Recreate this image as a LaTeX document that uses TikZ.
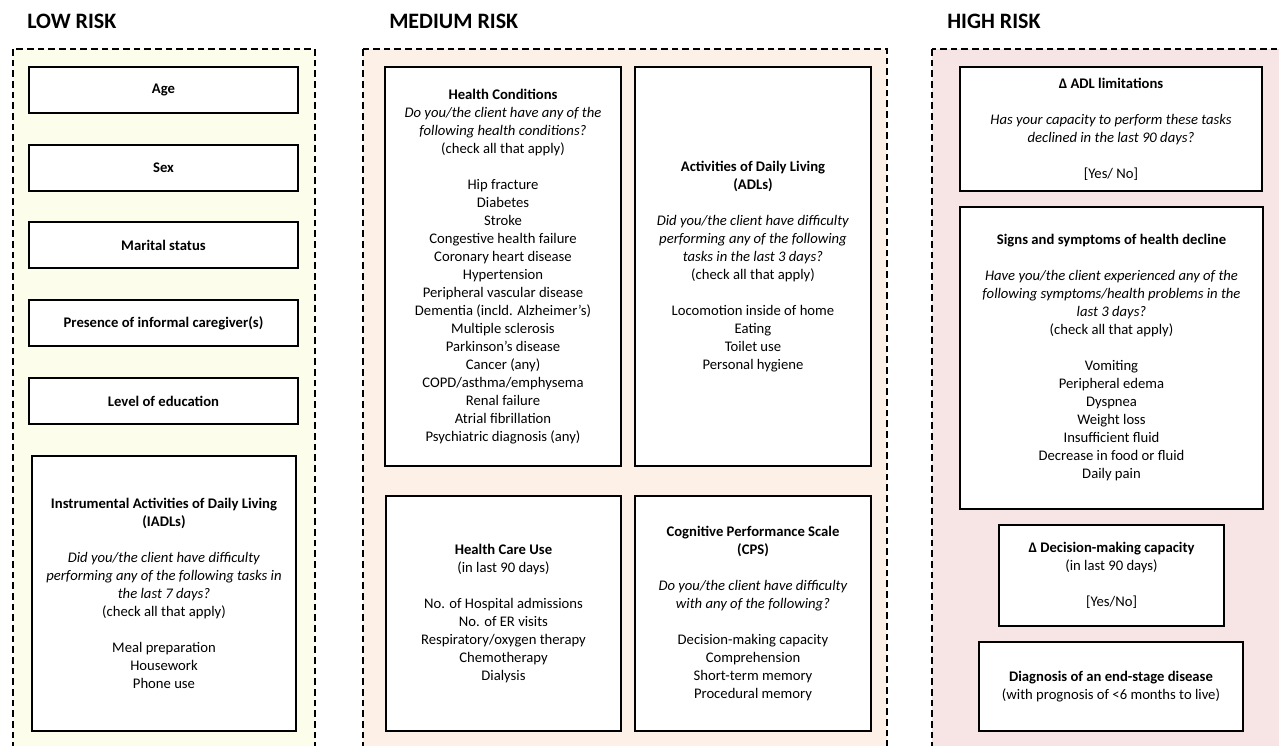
\documentclass[tikz,border=0pt]{standalone}
\usepackage{fontspec}
\setmainfont{Carlito}
\usepackage{tikz}
\usetikzlibrary{calc}

\definecolor{lowfill}{RGB}{253,253,236}
\definecolor{medfill}{RGB}{253,240,230}
\definecolor{highfill}{RGB}{247,228,228}
\def\px{0.75pt}
\def\gap{\\[13.5pt]}

\tikzset{
	riskzone/.style={draw=black, line width=1.1pt, dash pattern=on 5pt off 3pt},
	itembox/.style={draw=black, line width=1.2pt, fill=white, align=center, inner sep=0pt,
		font=\fontsize{11pt}{13.5pt}\selectfont},
	riskhead/.style={anchor=base west, inner sep=0pt, font=\fontsize{16.5pt}{20pt}\selectfont\bfseries},
}

\begin{document}
\begin{tikzpicture}[x=0.75pt, y=-0.75pt]
		%%%%% START %%%%%
		
		\useasboundingbox (0, 0) rectangle (1279, 746);
		\clip (0, 0) rectangle (1279, 746);
		
		\draw[riskzone, fill=lowfill] (13, 49) rectangle (315, 760);
		\draw[riskzone, fill=medfill] (363, 49) rectangle (887, 760);
		\draw[riskzone, fill=highfill] (932, 49) rectangle (1295, 760);
		
		\node[riskhead] (lowhead) at (27, 28) {LOW RISK};
		\node[riskhead] (medhead) at (389, 28) {MEDIUM RISK};
		\node[riskhead] (highhead) at (947, 28) {HIGH RISK};
		
		%% low risk
		\node[itembox, minimum width=269*\px, minimum height=46*\px] (age) at (163.5, 90) {\textbf{Age}};
		\node[itembox, minimum width=269*\px, minimum height=46*\px] (sex) at (163.5, 168) {\textbf{Sex}};
		\node[itembox, minimum width=269*\px, minimum height=46*\px] (marital) at (163.5, 245) {\textbf{Marital status}};
		\node[itembox, minimum width=269*\px, minimum height=46*\px] (carer) at (163.5, 323) {\textbf{Presence of informal caregiver(s)}};
		\node[itembox, minimum width=269*\px, minimum height=46*\px] (educ) at (163.5, 401) {\textbf{Level of education}};
		\node[itembox, minimum width=264*\px, minimum height=275*\px] (iadl) at (164, 593.5) {%
			\textbf{Instrumental Activities of Daily Living}\\ \textbf{(IADLs)}\gap
			\textit{Did you/the client have difficulty}\\ \textit{performing any of the following tasks in}\\ \textit{the last 7 days?}\\
			(check all that apply)\gap
			Meal preparation\\ Housework\\ Phone use};
		
		%% medium risk
		\node[itembox, minimum width=236*\px, minimum height=399*\px] (cond) at (503, 266.5) {%
			\textbf{Health Conditions}\\
			\textit{Do you/the client have any of the}\\ \textit{following health conditions?}\\
			(check all that apply)\gap
			Hip fracture\\ Diabetes\\ Stroke\\ Congestive health failure\\ Coronary heart disease\\
			Hypertension\\ Peripheral vascular disease\\ Dementia (incld. Alzheimer’s)\\
			Multiple sclerosis\\ Parkinson’s disease\\ Cancer (any)\\ COPD/asthma/emphysema\\
			Renal failure\\ Atrial fibrillation\\ Psychiatric diagnosis (any)};
		\node[itembox, minimum width=236*\px, minimum height=399*\px] (adl) at (753, 266.5) {%
			\textbf{Activities of Daily Living}\\ \textbf{(ADLs)}\gap
			\textit{Did you/the client have difficulty}\\ \textit{performing any of the following}\\ \textit{tasks in the last 3 days?}\\
			(check all that apply)\gap
			Locomotion inside of home\\ Eating\\ Toilet use\\ Personal hygiene};
		\node[itembox, minimum width=235*\px, minimum height=235*\px] (care) at (503.5, 613.5) {%
			\textbf{Health Care Use}\\ (in last 90 days)\gap
			No. of Hospital admissions\\ No. of ER visits\\ Respiratory/oxygen therapy\\ Chemotherapy\\ Dialysis};
		\node[itembox, minimum width=236*\px, minimum height=235*\px] (cps) at (753, 613.5) {%
			\textbf{Cognitive Performance Scale}\\ \textbf{(CPS)}\gap
			\textit{Do you/the client have difficulty}\\ \textit{with any of the following?}\gap
			Decision-making capacity\\ Comprehension\\ Short-term memory\\ Procedural memory};
		
		%% high risk
		\node[itembox, minimum width=302*\px, minimum height=124*\px] (adldelta) at (1111, 129) {%
			\textbf{Δ ADL limitations}\gap
			\textit{Has your capacity to perform these tasks}\\ \textit{declined in the last 90 days?}\gap
			[Yes/ No]};
		\node[itembox, minimum width=303*\px, minimum height=302*\px] (signs) at (1111.5, 358) {%
			\textbf{Signs and symptoms of health decline}\gap
			\textit{Have you/the client experienced any of the}\\ \textit{following symptoms/health problems in the}\\ \textit{last 3 days?}\\
			(check all that apply)\gap
			Vomiting\\ Peripheral edema\\ Dyspnea\\ Weight loss\\ Insufficient fluid\\ Decrease in food or fluid\\ Daily pain};
		\node[itembox, minimum width=225*\px, minimum height=101*\px] (decision) at (1111.5, 575.5) {%
			\textbf{Δ Decision-making capacity}\\ (in last 90 days)\gap
			[Yes/No]};
		\node[itembox, minimum width=264*\px, minimum height=89*\px] (endstage) at (1111, 686.5) {%
			\textbf{Diagnosis of an end-stage disease}\\ (with prognosis of <6 months to live)};
		
		%%%%% END %%%%%
\end{tikzpicture}
\end{document}
